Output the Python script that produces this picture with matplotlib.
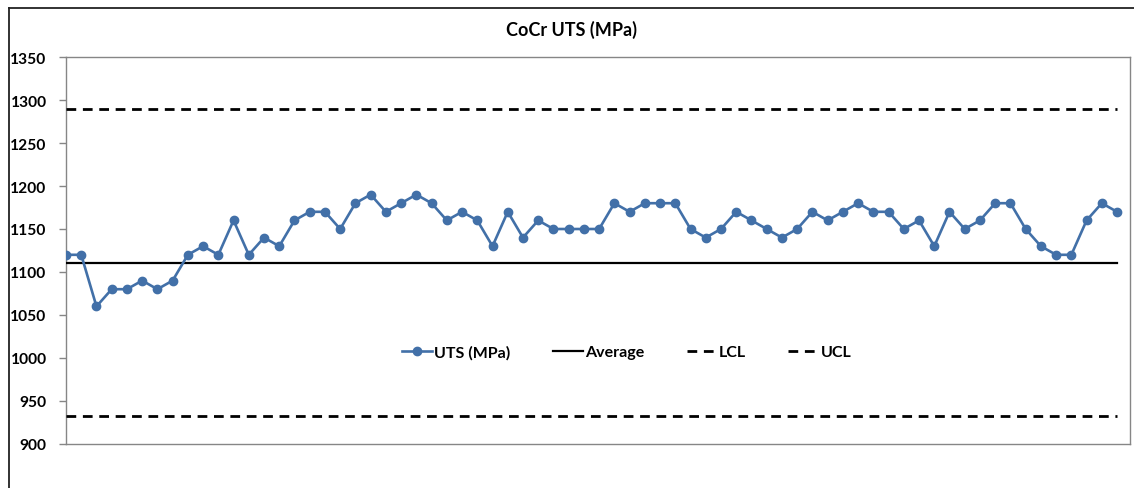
import matplotlib
matplotlib.use("Agg")
import matplotlib.pyplot as plt
from matplotlib.lines import Line2D

uts = [1120, 1120, 1060, 1080, 1080, 1090, 1080, 1090, 1120, 1130,
       1120, 1160, 1120, 1140, 1130, 1160, 1170, 1170, 1150, 1180,
       1190, 1170, 1180, 1190, 1180, 1160, 1170, 1160, 1130, 1170,
       1140, 1160, 1150, 1150, 1150, 1150, 1180, 1170, 1180, 1180,
       1180, 1150, 1140, 1150, 1170, 1160, 1150, 1140, 1150, 1170,
       1160, 1170, 1180, 1170, 1170, 1150, 1160, 1130, 1170, 1150,
       1160, 1180, 1180, 1150, 1130, 1120, 1120, 1160, 1180, 1170]
average = 1111
lcl = 933
ucl = 1289
title = "CoCr UTS (MPa)"
yticks = [900, 950, 1000, 1050, 1100, 1150, 1200, 1250, 1300, 1350]

plt.rcParams['font.family'] = ['Lato', 'DejaVu Sans']

W, H = 1134, 489
fig = plt.figure(figsize=(W / 100, H / 100), dpi=100)
ax = fig.add_axes([66 / W, 1 - 445 / H, (1130 - 66) / W, (445 - 58) / H])

n = len(uts)
x = list(range(n))
blue = '#4270A8'
ax.plot(x, uts, color=blue, lw=1.9, marker='o', ms=6, mec=blue, mfc=blue,
        label='UTS (MPa)', zorder=4)
ax.plot([0, n - 1], [average, average], color='black', lw=1.6, label='Average', zorder=3)
ax.plot([0, n - 1], [lcl, lcl], color='black', lw=2.0, dashes=(3.5, 2.4), label='LCL', zorder=3)
ax.plot([0, n - 1], [ucl, ucl], color='black', lw=2.0, dashes=(3.5, 2.4), label='UCL', zorder=3)

ax.set_xlim(0, n - 1 + 0.85)
ax.set_ylim(900, 1350)
ax.set_yticks(yticks)
ax.set_yticklabels([str(v) for v in yticks], fontweight='bold', fontsize=11.2)
ax.set_xticks([])
ax.tick_params(axis='y', length=5, width=1, color='#868686', pad=9)
for s in ax.spines.values():
    s.set_color('#868686')
    s.set_linewidth(1)

leg = ax.legend(loc='center', bbox_to_anchor=(0.527, 0.238), ncol=4, frameon=False,
                prop={'weight': 'bold', 'size': 11.5}, handlelength=1.9,
                handletextpad=0.12, columnspacing=2.65)

fig.text(571 / W, 1 - 30 / H, title, ha='center', va='center',
         fontweight='bold', fontsize=13)

# outer chart frame
fig.add_artist(Line2D([9 / W, 1], [1 - 9 / H, 1 - 9 / H], transform=fig.transFigure,
                      color='#222222', lw=1.3))
fig.add_artist(Line2D([9 / W, 9 / W], [0, 1 - 9 / H], transform=fig.transFigure,
                      color='#222222', lw=1.3))

fig.savefig('out.png', dpi=100)
